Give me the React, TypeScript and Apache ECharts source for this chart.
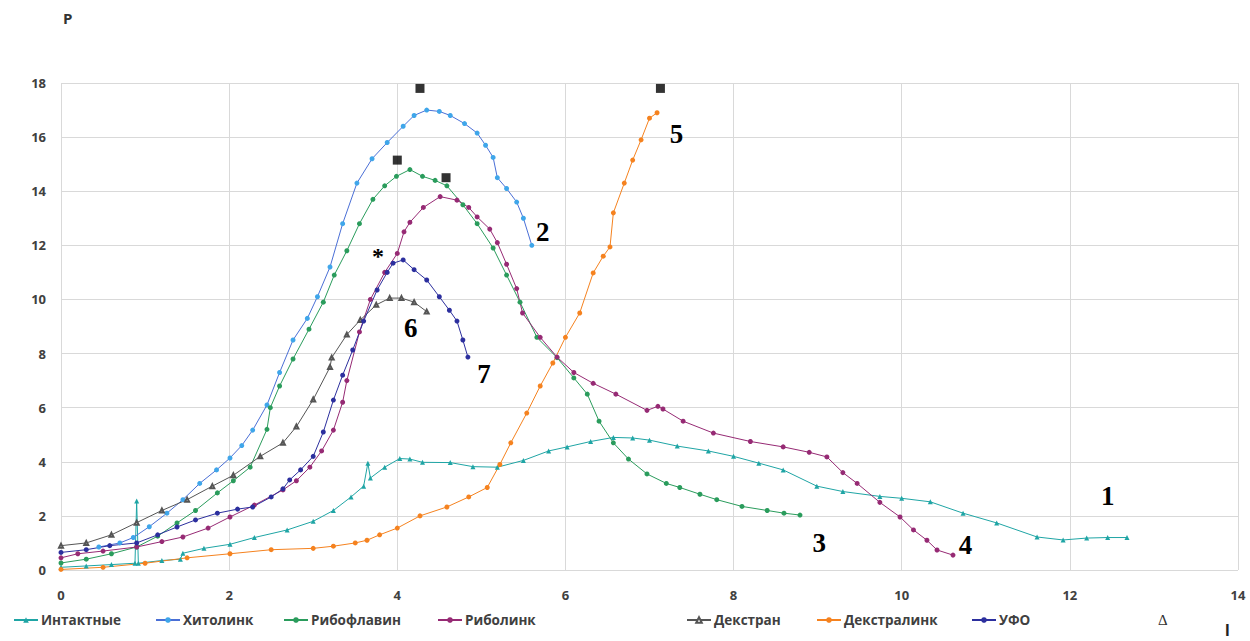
import React, { useEffect, useRef } from "react";
import * as echarts from "echarts";

const xTicks = [0, 2, 4, 6, 8, 10, 12, 14];
const yTicks = [0, 2, 4, 6, 8, 10, 12, 14, 16, 18];

const seriesNames = ["Интактные", "Хитолинк", "Рибофлавин", "Риболинк", "Декстран", "Декстралинк", "УФО"];

const intact = [[0,0.1],[0.3,0.15],[0.6,0.2],[0.88,0.25],[0.9,2.55],[0.92,0.25],[1.2,0.35],[1.42,0.4],[1.45,0.62],[1.7,0.8],[2.01,0.95],[2.3,1.2],[2.69,1.48],[3.0,1.8],[3.24,2.2],[3.45,2.7],[3.6,3.1],[3.65,3.95],[3.68,3.4],[3.85,3.8],[4.03,4.12],[4.15,4.1],[4.3,3.98],[4.63,3.97],[4.9,3.82],[5.19,3.8],[5.5,4.05],[5.8,4.4],[6.02,4.55],[6.3,4.75],[6.57,4.9],[6.8,4.88],[7.0,4.8],[7.33,4.58],[7.7,4.4],[8.0,4.2],[8.3,3.95],[8.59,3.7],[8.99,3.1],[9.3,2.9],[9.74,2.72],[10.0,2.65],[10.34,2.52],[10.73,2.1],[11.13,1.74],[11.61,1.22],[11.92,1.11],[12.2,1.18],[12.45,1.2],[12.68,1.2]];

const chitolink = [[0.45,0.85],[0.7,1.0],[0.86,1.2],[1.05,1.6],[1.26,2.1],[1.45,2.6],[1.65,3.2],[1.85,3.7],[2.01,4.14],[2.15,4.6],[2.28,5.17],[2.45,6.1],[2.6,7.3],[2.76,8.5],[2.93,9.3],[3.05,10.1],[3.2,11.2],[3.35,12.8],[3.52,14.3],[3.7,15.2],[3.88,15.8],[4.07,16.4],[4.2,16.8],[4.35,17.0],[4.5,16.95],[4.63,16.8],[4.8,16.5],[4.95,16.15],[5.05,15.7],[5.14,15.25],[5.19,14.5],[5.3,14.1],[5.42,13.6],[5.5,13.0],[5.6,12.0]];

const riboflavin = [[0,0.26],[0.3,0.4],[0.6,0.6],[0.9,0.85],[1.15,1.25],[1.38,1.74],[1.6,2.2],[1.86,2.85],[2.05,3.3],[2.25,3.8],[2.45,5.2],[2.49,6.0],[2.6,6.8],[2.76,7.8],[2.95,8.9],[3.12,9.9],[3.25,10.9],[3.4,11.8],[3.55,12.8],[3.71,13.7],[3.85,14.2],[3.99,14.55],[4.15,14.8],[4.3,14.55],[4.45,14.4],[4.59,14.2],[4.78,13.5],[4.95,12.8],[5.14,11.9],[5.3,10.9],[5.46,9.9],[5.66,8.6],[5.9,7.85],[6.1,7.1],[6.26,6.5],[6.4,5.5],[6.57,4.7],[6.75,4.1],[6.97,3.55],[7.2,3.2],[7.36,3.05],[7.6,2.8],[7.8,2.6],[8.1,2.35],[8.4,2.2],[8.6,2.1],[8.79,2.03]];

const ribolink = [[0,0.45],[0.2,0.6],[0.5,0.7],[0.9,0.85],[1.2,1.05],[1.45,1.22],[1.75,1.55],[2.01,1.96],[2.3,2.4],[2.64,2.96],[2.8,3.3],[2.96,3.8],[3.1,4.4],[3.24,5.17],[3.35,6.2],[3.4,7.0],[3.55,8.8],[3.68,10.0],[3.85,11.0],[4.0,11.7],[4.08,12.5],[4.15,12.85],[4.31,13.4],[4.51,13.8],[4.71,13.67],[4.85,13.4],[4.95,13.05],[5.1,12.6],[5.19,12.1],[5.3,11.3],[5.42,10.4],[5.49,9.5],[5.7,8.6],[5.9,7.87],[6.1,7.3],[6.33,6.9],[6.6,6.5],[6.97,5.9],[7.1,6.05],[7.16,5.95],[7.4,5.5],[7.76,5.06],[8.2,4.75],[8.59,4.55],[8.9,4.35],[9.11,4.18],[9.3,3.6],[9.47,3.2],[9.74,2.5],[9.98,1.96],[10.14,1.48],[10.3,1.1],[10.42,0.74],[10.61,0.55]];

const dextran = [[0,0.9],[0.3,1.0],[0.6,1.3],[0.9,1.75],[1.2,2.2],[1.5,2.6],[1.8,3.1],[2.05,3.5],[2.37,4.2],[2.64,4.7],[2.8,5.3],[3.0,6.3],[3.2,7.5],[3.22,7.85],[3.4,8.7],[3.56,9.24],[3.75,9.8],[3.91,10.05],[4.05,10.05],[4.2,9.9],[4.35,9.55]];

const dextralink = [[0,0.02],[0.5,0.1],[1.0,0.25],[1.5,0.45],[2.01,0.6],[2.5,0.75],[3.0,0.8],[3.24,0.88],[3.5,1.0],[3.64,1.1],[3.79,1.3],[4.0,1.55],[4.27,2.0],[4.59,2.33],[4.85,2.7],[5.07,3.05],[5.22,3.9],[5.35,4.7],[5.54,5.8],[5.7,6.8],[5.85,7.65],[6.0,8.6],[6.17,9.5],[6.33,10.98],[6.45,11.6],[6.53,11.94],[6.57,13.2],[6.7,14.3],[6.8,15.15],[6.9,15.9],[7.0,16.7],[7.09,16.9]];

const ufo = [[0,0.65],[0.3,0.75],[0.58,0.9],[0.9,1.0],[1.15,1.3],[1.38,1.59],[1.6,1.85],[1.86,2.1],[2.1,2.25],[2.28,2.33],[2.5,2.7],[2.64,3.0],[2.72,3.33],[2.85,3.7],[3.0,4.2],[3.12,5.1],[3.24,6.28],[3.35,7.2],[3.47,8.13],[3.6,9.2],[3.76,10.35],[3.88,11.0],[3.95,11.34],[4.07,11.46],[4.2,11.1],[4.35,10.72],[4.5,10.1],[4.62,9.6],[4.71,9.2],[4.78,8.5],[4.84,7.87]];

const squareMarks = [[4.27,17.8],[7.13,17.8],[4.0,15.15],[4.58,14.5]];
const curveLabels = [
  { name: "2", value: [5.73, 12.49] },
  { name: "5", value: [7.32, 16.11] },
  { name: "6", value: [4.16, 8.94] },
  { name: "7", value: [5.03, 7.24] },
  { name: "1", value: [12.45, 2.73] },
  { name: "3", value: [9.02, 1.0] },
  { name: "4", value: [10.76, 0.92] },
];
const starMark = [{ name: "*", value: [3.77, 11.6] }];

const legendLefts = [8, 150, 278, 432, 681, 811, 966];

export default function App() {
  const ref = useRef<HTMLDivElement>(null);
  useEffect(() => {
    if (!ref.current) return;
    const chart = echarts.init(ref.current, null, { renderer: "svg" });
    const mk = (name: string, data: number[][], symbol: string, itemColor: string, lineColor: string, size = 5) => ({
      name,
      type: "line",
      data,
      symbol,
      symbolSize: size,
      showSymbol: true,
      itemStyle: { color: itemColor },
      lineStyle: { color: lineColor, width: 1 },
      emphasis: { disabled: true },
    });
    chart.setOption({
      animation: false,
      backgroundColor: "#ffffff",
      grid: { left: 61, right: 12, top: 83, bottom: 71, containLabel: false },
      xAxis: {
        type: "value",
        min: 0,
        max: 14,
        interval: 2,
        axisLine: { show: false },
        axisTick: { show: false },
        splitLine: { show: true, lineStyle: { color: "#d9d9d9", width: 1 } },
        axisLabel: { margin: 18, fontSize: 13, fontWeight: "bold", color: "#404040", fontFamily: "Open Sans" },
      },
      yAxis: {
        type: "value",
        min: 0,
        max: 18,
        interval: 2,
        axisLine: { show: false },
        axisTick: { show: false },
        splitLine: { show: true, lineStyle: { color: "#d9d9d9", width: 1 } },
        axisLabel: { margin: 15, fontSize: 13, fontWeight: "bold", color: "#404040", fontFamily: "Open Sans" },
      },
      legend: seriesNames.map((n, i) => ({
        data: [n],
        left: legendLefts[i],
        top: 608,
        itemWidth: 24,
        itemHeight: 7,
        itemGap: 4,
        selectedMode: false,
        textStyle: { fontSize: 13.5, fontWeight: "bold", color: "#404040", fontFamily: "Open Sans", padding: [0, 0, 0, -2] },
      })),
      graphic: [
        { type: "text", left: 63, top: 10, style: { text: "P", fontSize: 15, fontWeight: "bold", fill: "#333", fontFamily: "Open Sans" } },
        { type: "text", left: 1158, top: 612, style: { text: "Δ", fontSize: 15, fill: "#333", fontFamily: "Liberation Serif" } },
        { type: "text", left: 1225, top: 622, style: { text: "l", fontSize: 17, fontWeight: "bold", fill: "#222", fontFamily: "Liberation Sans" } },
      ],
      series: [
        mk("Интактные", intact, "triangle", "#1fa5a5", "#1fa5a5", 5),
        mk("Хитолинк", chitolink, "circle", "#3fa6ea", "#4a6fd6", 5),
        mk("Рибофлавин", riboflavin, "circle", "#2a9c5c", "#2a9c5c", 5),
        mk("Риболинк", ribolink, "circle", "#962a74", "#962a74", 5),
        mk("Декстран", dextran, "emptyTriangle", "#555555", "#555555", 4),
        mk("Декстралинк", dextralink, "circle", "#f5821f", "#f5821f", 5),
        mk("УФО", ufo, "circle", "#2c2f9e", "#2c2f9e", 5),
        {
          name: "marks",
          type: "scatter",
          data: squareMarks,
          symbol: "rect",
          symbolSize: 9,
          itemStyle: { color: "#000000" },
          z: 5,
        },
        {
          name: "curveLabels",
          type: "scatter",
          data: curveLabels,
          symbolSize: 2,
          itemStyle: { color: "rgba(255,255,255,0)" },
          label: { show: true, position: "inside", formatter: "{b}", fontFamily: "Liberation Serif", fontWeight: "bold", fontSize: 27, color: "#000000", opacity: 1 },
          z: 6,
        },
        {
          name: "star",
          type: "scatter",
          data: starMark,
          symbolSize: 2,
          itemStyle: { color: "rgba(255,255,255,0)" },
          label: { show: true, position: "inside", formatter: "{b}", fontFamily: "Liberation Serif", fontWeight: "bold", fontSize: 24, color: "#000000", opacity: 1 },
          z: 6,
        },
      ],
    });
    return () => chart.dispose();
  }, []);
  return <div ref={ref} style={{ position: "fixed", left: 0, top: 0, width: 1250, height: 641, background: "#fff" }} />;
}
